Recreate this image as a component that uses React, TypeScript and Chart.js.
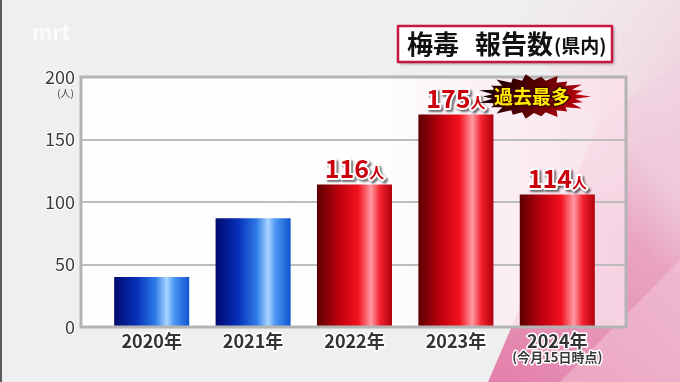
import React, { useEffect, useRef } from 'react';
import { Chart, registerables } from 'chart.js';
Chart.register(...registerables);

const categories = ['2020年', '2021年', '2022年', '2023年', '2024年'];
const reports = [40, 87, 114, 170, 106];
const valueLabels = ['', '', '116', '175', '114'];
const barTones = ['blue', 'blue', 'red', 'red', 'red'];
const yTickValues = [0, 50, 100, 150, 200];
const titleWords = ['梅毒', '報告数'];
const titleSub = '(県内)';
const unitText = '人';
const yUnitText = '(人)';
const noteText = '(今月15日時点)';
const recordText = '過去最多';
const recordIndex = 3;
const noteIndex = 4;

const JP = '"Noto Sans CJK JP", "Noto Sans", sans-serif';

function barGradient(ctx: CanvasRenderingContext2D, x0: number, x1: number, tone: string) {
  const g = ctx.createLinearGradient(x0, 0, x1, 0);
  if (tone === 'blue') {
    g.addColorStop(0, '#000a6e');
    g.addColorStop(0.3, '#0630b8');
    g.addColorStop(0.55, '#2f7be8');
    g.addColorStop(0.7, '#a9d5ff');
    g.addColorStop(0.8, '#4a96f2');
    g.addColorStop(1, '#0f55d0');
  } else {
    g.addColorStop(0, '#5c0000');
    g.addColorStop(0.3, '#c0000e');
    g.addColorStop(0.55, '#f2121e');
    g.addColorStop(0.72, '#ff9aa2');
    g.addColorStop(0.84, '#f2222e');
    g.addColorStop(1, '#b0000c');
  }
  return g;
}

const decorPlugin = {
  id: 'decor',
  beforeDraw(chart: any) {
    const { ctx, chartArea: ca, width, height } = chart;
    const y = chart.scales.y;
    ctx.save();
    ctx.fillStyle = '#efefef';
    ctx.fillRect(0, 0, width, height);
    let g = ctx.createLinearGradient(480, 382, 700, 120);
    g.addColorStop(0, 'rgba(226,120,165,0.95)');
    g.addColorStop(0.6, 'rgba(232,150,185,0.85)');
    g.addColorStop(1, 'rgba(245,215,228,0.5)');
    ctx.fillStyle = g;
    ctx.beginPath();
    ctx.moveTo(488, 382);
    ctx.lineTo(680, 382);
    ctx.lineTo(680, 60);
    ctx.lineTo(600, 120);
    ctx.closePath();
    ctx.fill();
    ctx.fillStyle = 'rgba(250,220,232,0.35)';
    ctx.beginPath();
    ctx.moveTo(560, 382);
    ctx.lineTo(680, 260);
    ctx.lineTo(680, 382);
    ctx.closePath();
    ctx.fill();
    g = ctx.createLinearGradient(500, 0, 680, 120);
    g.addColorStop(0, 'rgba(245,225,233,0)');
    g.addColorStop(1, 'rgba(240,200,218,0.8)');
    ctx.fillStyle = g;
    ctx.beginPath();
    ctx.moveTo(480, 0);
    ctx.lineTo(680, 0);
    ctx.lineTo(680, 200);
    ctx.closePath();
    ctx.fill();
    ctx.fillStyle = '#5a5a5a';
    ctx.fillRect(0, 0, 2, height);
    const fl = ca.left - 20, fr = ca.right + 18;
    const ft = y.getPixelForValue(200), fb = y.getPixelForValue(0);
    g = ctx.createLinearGradient(fl, 0, fr, 0);
    g.addColorStop(0, 'rgba(255,255,255,0.97)');
    g.addColorStop(0.55, 'rgba(255,255,255,0.9)');
    g.addColorStop(1, 'rgba(250,222,234,0.8)');
    ctx.fillStyle = g;
    ctx.fillRect(fl, ft, fr - fl, fb - ft);
    ctx.strokeStyle = '#bdbdbd';
    ctx.lineWidth = 2;
    yTickValues.forEach((v) => {
      if (v === 0 || v === 200) return;
      const py = Math.round(y.getPixelForValue(v));
      ctx.beginPath();
      ctx.moveTo(fl, py);
      ctx.lineTo(fr, py);
      ctx.stroke();
    });
    ctx.restore();
  },
  afterDatasetsDraw(chart: any) {
    const { ctx, chartArea: ca } = chart;
    const y = chart.scales.y;
    const fl = ca.left - 20, fr = ca.right + 18;
    const ft = y.getPixelForValue(200), fb = y.getPixelForValue(0);
    ctx.save();
    ctx.strokeStyle = '#b4b4b4';
    ctx.lineWidth = 3;
    ctx.strokeRect(fl, ft, fr - fl, fb - ft);
    ctx.restore();
  },
  afterDraw(chart: any) {
    const { ctx } = chart;
    const meta = chart.getDatasetMeta(0);
    ctx.save();
    ctx.font = `bold 21px ${JP}`;
    ctx.fillStyle = 'rgba(255,255,255,0.75)';
    ctx.textBaseline = 'alphabetic';
    ctx.fillText('mrt', 32, 40);

    ctx.font = `10px ${JP}`;
    ctx.fillStyle = '#444';
    ctx.textAlign = 'right';
    ctx.fillText(yUnitText, 74, 97);

    const nx = meta.data[noteIndex].x;
    ctx.font = `bold 13px ${JP}`;
    ctx.textAlign = 'center';
    ctx.lineJoin = 'round';
    ctx.strokeStyle = '#ffffff';
    ctx.lineWidth = 3;
    ctx.strokeText(noteText, nx, 362);
    ctx.fillStyle = '#3a3a3a';
    ctx.fillText(noteText, nx, 362);

    valueLabels.forEach((lab, i) => {
      if (!lab) return;
      const el = meta.data[i];
      const by = el.y - 7;
      ctx.font = `bold 25px ${JP}`;
      const w1 = ctx.measureText(lab).width;
      ctx.font = `bold 15px ${JP}`;
      const w2 = ctx.measureText(unitText).width;
      const x0 = el.x - (w1 + w2) / 2;
      ctx.textAlign = 'left';
      ctx.lineJoin = 'round';
      const draw = (stroke: boolean) => {
        ctx.font = `bold 25px ${JP}`;
        stroke ? ctx.strokeText(lab, x0, by) : ctx.fillText(lab, x0, by);
        ctx.font = `bold 15px ${JP}`;
        stroke ? ctx.strokeText(unitText, x0 + w1, by) : ctx.fillText(unitText, x0 + w1, by);
      };
      ctx.save();
      ctx.shadowColor = 'rgba(0,0,0,0.55)';
      ctx.shadowOffsetX = 2;
      ctx.shadowOffsetY = 2;
      ctx.shadowBlur = 2;
      ctx.strokeStyle = '#ffffff';
      ctx.lineWidth = 4;
      draw(true);
      ctx.restore();
      ctx.fillStyle = '#cc000c';
      draw(false);
    });

    const rel = meta.data[recordIndex];
    const cx = rel.x + 78, cy = rel.y - 18;
    const spikes = 22;
    ctx.beginPath();
    for (let k = 0; k < spikes * 2; k++) {
      const a = (Math.PI * k) / spikes;
      const out = k % 2 === 0;
      const jitter = out ? (k % 4 === 0 ? 1.12 : 1.0) : 0.82;
      const rx = 51 * jitter, ry = 20 * jitter;
      const px = cx + Math.cos(a) * rx;
      const py = cy + Math.sin(a) * ry;
      k === 0 ? ctx.moveTo(px, py) : ctx.lineTo(px, py);
    }
    ctx.closePath();
    const bg = ctx.createLinearGradient(cx - 40, cy - 20, cx + 40, cy + 20);
    bg.addColorStop(0, '#1a0000');
    bg.addColorStop(0.5, '#5a0000');
    bg.addColorStop(1, '#c0000c');
    ctx.fillStyle = bg;
    ctx.fill();
    ctx.font = `bold 19px ${JP}`;
    ctx.textAlign = 'center';
    ctx.textBaseline = 'middle';
    ctx.strokeStyle = '#3a0000';
    ctx.lineWidth = 3;
    ctx.strokeText(recordText, cx - 2, cy);
    ctx.fillStyle = '#ffec00';
    ctx.fillText(recordText, cx - 2, cy);

    ctx.save();
    ctx.shadowColor = 'rgba(0,0,0,0.35)';
    ctx.shadowOffsetX = 2;
    ctx.shadowOffsetY = 2;
    ctx.shadowBlur = 3;
    ctx.fillStyle = '#ffffff';
    ctx.fillRect(398, 26, 214, 36);
    ctx.restore();
    ctx.strokeStyle = '#c8163e';
    ctx.lineWidth = 2.5;
    ctx.strokeRect(398, 26, 214, 36);
    ctx.fillStyle = '#111';
    ctx.textAlign = 'left';
    ctx.textBaseline = 'alphabetic';
    ctx.font = `bold 26px ${JP}`;
    ctx.fillText(titleWords[0], 407, 54);
    const tw0 = ctx.measureText(titleWords[0]).width;
    const x2 = 407 + tw0 + 16;
    ctx.fillText(titleWords[1], x2, 54);
    const tw1 = ctx.measureText(titleWords[1]).width;
    ctx.font = `bold 19px ${JP}`;
    ctx.fillText(titleSub, x2 + tw1 + 1, 53);
    ctx.restore();
  },
};

export default function App() {
  const ref = useRef<HTMLCanvasElement | null>(null);
  useEffect(() => {
    if (!ref.current) return;
    const chart = new Chart(ref.current, {
      type: 'bar',
      data: {
        labels: categories,
        datasets: [
          {
            data: reports,
            barPercentage: 0.74,
            categoryPercentage: 1,
            borderWidth: 0,
            backgroundColor: (c: any) => {
              const ch = c.chart;
              const xs = ch.scales && ch.scales.x;
              const tone = barTones[c.dataIndex] || 'red';
              const solid = tone === 'blue' ? '#1f5fd8' : '#e0101c';
              if (!xs || c.dataIndex === undefined) return solid;
              const cx = xs.getPixelForValue(c.dataIndex);
              const half = ((xs.width / categories.length) * 0.74) / 2;
              if (!isFinite(cx) || !isFinite(half) || half <= 0) return solid;
              return barGradient(ch.ctx, cx - half, cx + half, tone);
            },
          },
        ],
      },
      options: {
        responsive: false,
        animation: false,
        events: [],
        layout: { padding: { top: 77, right: 72, left: 0, bottom: 0 } },
        plugins: { legend: { display: false }, tooltip: { enabled: false } },
        scales: {
          x: {
            grid: { display: false, drawTicks: false },
            border: { display: false },
            ticks: {
              color: '#333333',
              font: { family: JP, size: 18, weight: 'bold' },
              padding: 3,
              textStrokeColor: '#ffffff',
              textStrokeWidth: 3,
            } as any,
            afterFit: (s: any) => {
              s.height = 55;
            },
          },
          y: {
            min: 0,
            max: 200,
            afterBuildTicks: (s: any) => {
              s.ticks = yTickValues.map((v) => ({ value: v }));
            },
            grid: { display: false, drawTicks: false },
            border: { display: false },
            ticks: {
              color: '#3c3c3c',
              font: { family: JP, size: 18 },
              padding: 26,
              textStrokeColor: '#ffffff',
              textStrokeWidth: 2,
            } as any,
            afterFit: (s: any) => {
              s.width = 101;
            },
          },
        },
      },
      plugins: [decorPlugin],
    } as any);
    return () => chart.destroy();
  }, []);
  return (
    <div style={{ position: 'fixed', left: 0, top: 0, width: 680, height: 382 }}>
      <canvas ref={ref} width={680} height={382} style={{ width: 680, height: 382 }} />
    </div>
  );
}
